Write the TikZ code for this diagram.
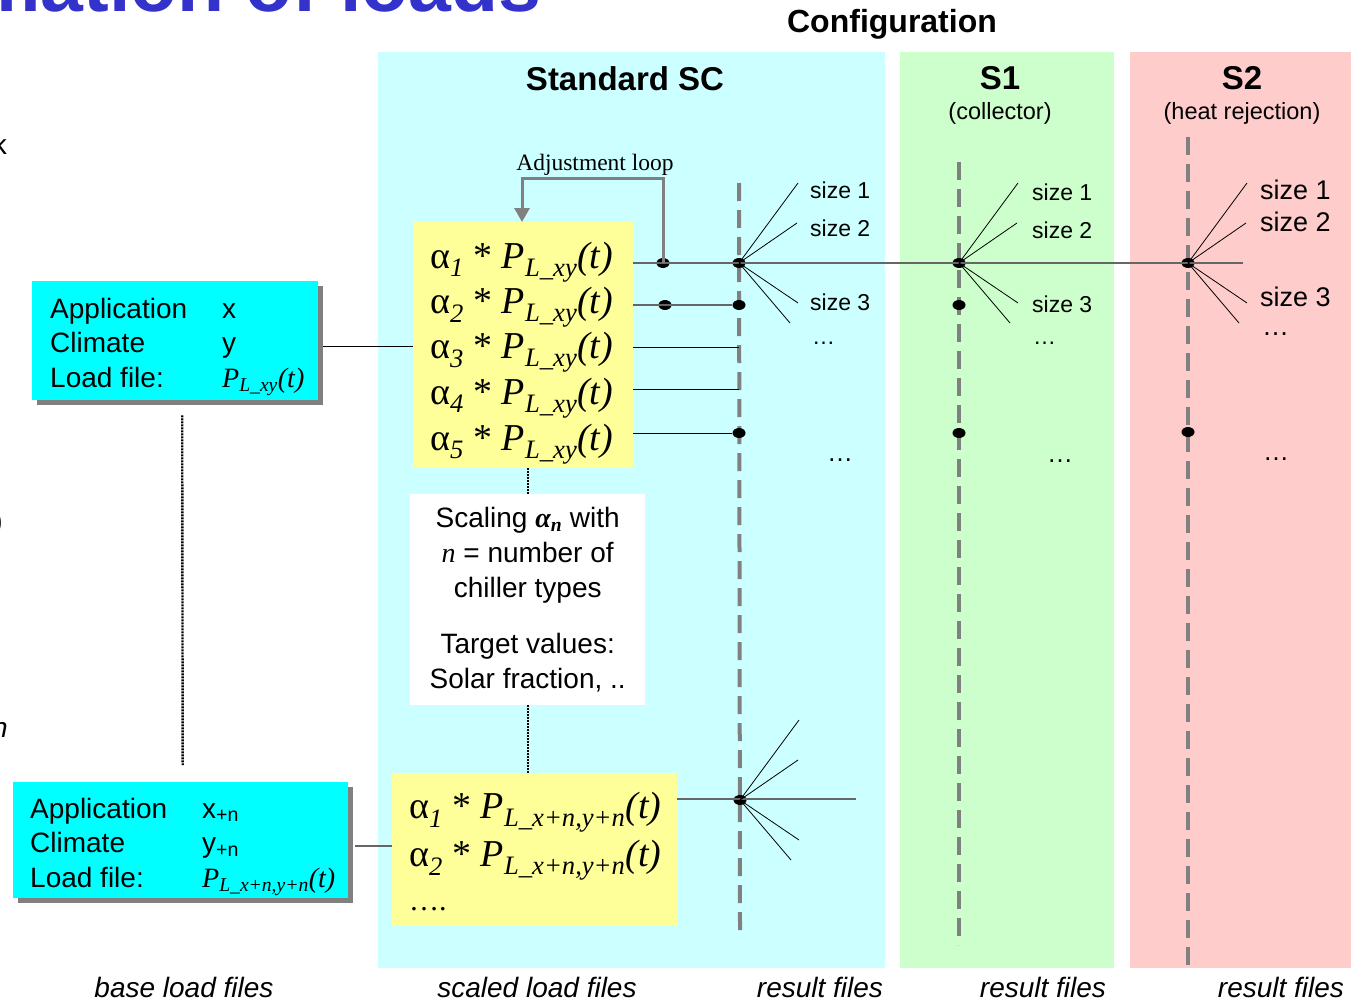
\documentclass[tikz,border=0pt]{standalone}
\usepackage{fontspec}
\setmainfont{Liberation Sans}
\newfontfamily\timesfont{Liberation Serif}
\usepackage{xcolor}
\usetikzlibrary{arrows.meta, positioning, calc, shapes.geometric, shadows}

\definecolor{stdband}{HTML}{CCFFFF}
\definecolor{sone}{HTML}{CCFFCC}
\definecolor{stwo}{HTML}{FFCCCC}
\definecolor{basecyan}{HTML}{00FFFF}
\definecolor{scaledyellow}{HTML}{FFFF99}
\definecolor{shadowgray}{HTML}{808080}
\definecolor{titleblue}{HTML}{3333CC}

\newcommand{\alphaP}[2]{{\timesfont α\textsubscript{\itshape #1} * \itshape P\textsubscript{L\_#2}(t)}}

\begin{document}
\begin{tikzpicture}[x=1pt, y=-1pt, >=Stealth]

% --- Style Definitions ---
% Configuration bands
\tikzstyle{band_node}=[anchor=north west, inner sep=0pt, outer sep=0pt, minimum height=916]
% Base load boxes (cyan with shadow)
\tikzstyle{base_box}=[anchor=north west, fill=basecyan, inner sep=0pt, drop shadow={shadow xshift=5pt, shadow yshift=-5pt, fill=shadowgray, opacity=1}]
\tikzstyle{base_text}=[anchor=base west, inner sep=0pt, font=\fontsize{28}{34.5}\selectfont]
% Scaled load boxes (yellow)
\tikzstyle{scaled_box}=[anchor=north west, fill=scaledyellow, inner sep=0pt]
\tikzstyle{formula_node}=[anchor=base west, inner sep=0pt, font=\fontsize{38}{44}\selectfont]
\tikzstyle{note_box}=[anchor=north west, fill=white, align=center, inner sep=0pt, font=\fontsize{28}{35}\selectfont]
% Texts
\tikzstyle{head_node}=[anchor=base, inner sep=0pt, font=\bfseries\fontsize{33}{38}\selectfont]
\tikzstyle{sub_node}=[anchor=base, inner sep=0pt, font=\fontsize{23.5}{28}\selectfont]
\tikzstyle{size_node}=[anchor=west, inner sep=0pt, font=\fontsize{23}{28}\selectfont]
\tikzstyle{dots_node}=[inner sep=0pt, font=\fontsize{26}{30}\selectfont]
\tikzstyle{foot_node}=[anchor=base, inner sep=0pt, font=\itshape\fontsize{28}{34}\selectfont]
% Lines
\tikzstyle{result_line}=[draw=shadowgray, line width=4pt, dash pattern=on 18pt off 9pt]
\tikzstyle{gray_line}=[draw=black!60, line width=1.5pt]
\tikzstyle{black_line}=[draw=black, line width=1pt]
\tikzstyle{fan_line}=[draw=black, line width=0.8pt]
\tikzstyle{dotted_link}=[draw=black, line width=2.4pt, dash pattern=on 2pt off 1pt]
\tikzstyle{loop_arrow}=[-{Triangle[width=15pt,length=14pt]}, line width=3pt, draw=shadowgray, color=shadowgray]
\tikzstyle{dot_node}=[ellipse, fill=black, inner sep=0pt, minimum width=13, minimum height=10]

\useasboundingbox (0,0) rectangle (1364,1003);

% --- 0. Cut-off slide parts ---
\node[anchor=base west, inner sep=0pt, text=titleblue, font=\bfseries\fontsize{77}{80}\selectfont] (Title) at (-28,12) {mation of loads};
\node[anchor=base east, inner sep=0pt, font=\fontsize{28}{34}\selectfont] (Frag_k) at (7,155) {k};
\node[anchor=base east, inner sep=0pt, font=\fontsize{28}{34}\selectfont] (Frag_p) at (3,530) {)};
\node[anchor=base east, inner sep=0pt, font=\itshape\fontsize{28}{34}\selectfont] (Frag_n) at (8,737) {n};

% --- 1. Configuration bands ---
\node[band_node, fill=stdband, minimum width=507] (Band_std) at (378,52) {};
\node[band_node, fill=sone, minimum width=214] (Band_s1) at (900,52) {};
\node[band_node, fill=stwo, minimum width=221] (Band_s2) at (1130,52) {};

\node[head_node, font=\bfseries\fontsize{32}{36}\selectfont] (Config) at (892,33) {Configuration};
\node[head_node] (Head_std) at (625,91) {Standard SC};
\node[head_node] (Head_s1) at (1000,90) {S1};
\node[sub_node] (Sub_s1) at (1000,120) {(collector)};
\node[head_node] (Head_s2) at (1242,90) {S2};
\node[sub_node] (Sub_s2) at (1242,120) {(heat rejection)};

% --- 2. Base load files ---
\node[base_box, minimum width=286, minimum height=119] (Base_1) at (32,281) {};
\node[base_text] (Base_1_text) at (50,318) {\begin{tabular}[t]{@{}p{172pt}@{}l@{}}
Application & x\\
Climate & y\\
Load file: & {\timesfont\itshape P\textsubscript{L\_xy}(t)}
\end{tabular}};

\node[base_box, minimum width=335, minimum height=116] (Base_2) at (13,782) {};
\node[base_text] (Base_2_text) at (30,818) {\begin{tabular}[t]{@{}p{172pt}@{}l@{}}
Application & x\textsubscript{+n}\\
Climate & y\textsubscript{+n}\\
Load file: & {\timesfont\itshape P\textsubscript{L\_x+n,y+n}(t)}
\end{tabular}};

\draw[dotted_link] ($(Base_1.south)+(7,15)$) -- ($(Base_2.north)+(2,-17)$);

% --- 3. Scaled load files ---
\node[scaled_box, minimum width=220, minimum height=246] (Yel_1) at (413,222) {};
\foreach \k/\yb in {1/268, 2/313, 3/358, 4/404, 5/450}
  \node[formula_node] (Row_\k) at (430,\yb) {\alphaP{\k}{xy}};

\node[note_box, minimum width=235, minimum height=211] (Note) at (410,494) {Scaling {\timesfont\bfseries\itshape α\textsubscript{n}} with\\
{\timesfont\itshape n} = number of\\
chiller types\\[21pt]
Target values:\\
Solar fraction, ..};

\node[scaled_box, minimum width=285, minimum height=153] (Yel_2) at (392,773) {};
\node[formula_node] (Row_b1) at (409,818) {\alphaP{1}{x+n,y+n}};
\node[formula_node] (Row_b2) at (409,866) {\alphaP{2}{x+n,y+n}};
\node[formula_node, font=\fontsize{30}{34}\selectfont] (Row_b3) at (409,910) {\timesfont ….};

\draw[dotted_link, line width=2pt] (Yel_1.south -| Note.north) -- (Note.north);
\draw[dotted_link, line width=2pt] (Note.south) -- (Yel_2.north -| Note.south);

\draw[black_line] ([xshift=5pt, yshift=-6pt]Base_1.east) -- ([yshift=-6pt]Base_1.east -| Yel_1.west);
\draw[gray_line] ([xshift=7pt, yshift=-6pt]Base_2.east) -- ([yshift=-6pt]Base_2.east -| Yel_2.west);

% --- 4. Result files (dashed) ---
\coordinate (Std_top) at (739,183);
\coordinate (Std_bot) at (740,930);
\coordinate (S1_top) at (959,162);
\coordinate (S1_bot) at (959,945);
\coordinate (S2_top) at (1188,137);
\coordinate (S2_bot) at (1188,968);
\draw[result_line] (Std_top) -- (Std_bot);
\draw[result_line] (S1_top) -- (S1_bot);
\draw[result_line] (S2_top) -- (S2_bot);

% dots on the result lines
\node[dot_node] (Dot_std_1) at (739,263) {};
\node[dot_node] (Dot_std_2) at (739,305) {};
\node[dot_node] (Dot_std_5) at (739,433) {};
\coordinate (End_3) at (739,347);
\coordinate (End_4) at (739,389);
\node[dot_node] (Dot_s1_1) at (959,263) {};
\node[dot_node] (Dot_s1_2) at (959,305) {};
\node[dot_node] (Dot_s1_5) at (959,433) {};
\node[dot_node] (Dot_s2_1) at (1188,263) {};
\node[dot_node] (Dot_s2_5) at (1188,432) {};
\node[dot_node] (Dot_adj_1) at (663,263) {};
\node[dot_node] (Dot_adj_2) at (665,305) {};
\node[dot_node] (Dot_std_b) at (740,800) {};
\coordinate (Row1_end) at (1243,263);
\coordinate (Rowb_end) at (856,799);

% horizontal links
\draw[gray_line] (Yel_1.east |- Dot_std_1) -- (Row1_end);
\draw[gray_line] (Yel_1.east |- Dot_std_2) -- (Dot_std_2);
\draw[black_line] (Yel_1.east |- End_3) -- (End_3);
\draw[black_line] (Yel_1.east |- End_4) -- (End_4);
\draw[black_line] (Yel_1.east |- Dot_std_5) -- (Dot_std_5);
\draw[gray_line] (Yel_2.east |- Rowb_end) -- (Rowb_end);

% fans of sizes
\foreach \c in {std_1, s1_1, s2_1, std_b}
  \foreach \n/\dx/\dy in {a/59/-80, b/58/-40, c/59/40, d/51/60} {
    \coordinate (Fan_\c_\n) at ($(Dot_\c)+(\dx,\dy)$);
    \draw[fan_line] (Dot_\c.center) -- (Fan_\c_\n);
  }

% adjustment loop
\coordinate (Loop_r) at (663,179);
\coordinate (Loop_l) at (522,179);
\draw[loop_arrow] (Dot_adj_1.center) -- (Loop_r) -- (Loop_l) -- (Loop_l |- Yel_1.north);
\node[anchor=base, inner sep=0pt, font=\timesfont\fontsize{23.5}{28}\selectfont] (Loop_label) at (595,171) {Adjustment loop};

% size labels
\node[size_node] (Std_size1) at (810,190) {size 1};
\node[size_node] (Std_size2) at (810,228) {size 2};
\node[size_node] (Std_size3) at (810,302) {size 3};
\node[size_node] (Std_more) at (812,343) {…};
\node[size_node] (S1_size1) at (1032,192) {size 1};
\node[size_node] (S1_size2) at (1032,230) {size 2};
\node[size_node] (S1_size3) at (1032,304) {size 3};
\node[size_node] (S1_more) at (1033,343) {…};
\node[size_node, font=\fontsize{27}{32}\selectfont] (S2_size1) at (1260,190) {size 1};
\node[size_node, font=\fontsize{27}{32}\selectfont] (S2_size2) at (1260,222) {size 2};
\node[size_node, font=\fontsize{27}{32}\selectfont] (S2_size3) at (1260,297) {size 3};
\node[size_node, font=\fontsize{27}{32}\selectfont] (S2_more) at (1262,334) {…};
\node[dots_node] (Std_more_b) at (840,460) {…};
\node[dots_node] (S1_more_b) at (1060,461) {…};
\node[dots_node] (S2_more_b) at (1276,459) {…};

% --- 5. Footer ---
\node[foot_node] (Foot_base) at (184,997) {base load files};
\node[foot_node] (Foot_scaled) at (537,997) {scaled load files};
\node[foot_node] (Foot_std) at (820,997) {result files};
\node[foot_node] (Foot_s1) at (1043,997) {result files};
\node[foot_node] (Foot_s2) at (1281,997) {result files};

\end{tikzpicture}
\end{document}
